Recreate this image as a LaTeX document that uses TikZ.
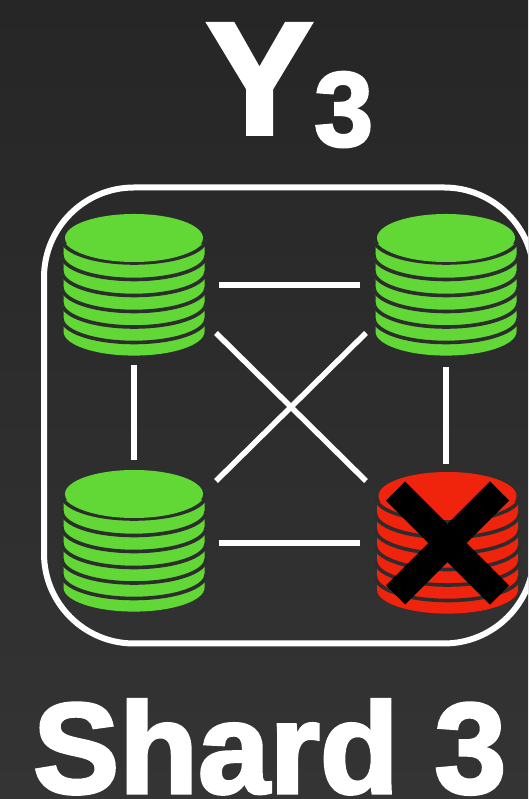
\documentclass[tikz,border=0pt]{standalone}
\usepackage{fontspec}
\newfontfamily\titlefont{Liberation Sans}[BoldFeatures={FakeBold=2.5}]
\definecolor{bgtop}{HTML}{262626}
\definecolor{bgbottom}{HTML}{343434}
\definecolor{diskgreen}{HTML}{62D836}
\definecolor{diskred}{HTML}{F0230D}
\definecolor{diskgap}{HTML}{2D2D2D}
\tikzset{
  stack/.style={minimum width=141pt, minimum height=141pt, inner sep=0pt},
  link/.style={draw=white, line width=5.5pt},
  cross/.style={draw=black, line width=27pt},
  title/.style={anchor=base west, inner sep=0pt, text=white},
}
% one stack of disks around a node centre
\newcommand{\diskstack}[3]{
  \node[stack] (#1) at (#2) {};
  \begin{scope}[shift={(#2)}]
    \fill[#3] (-70.5,41) -- (70.5,41) -- (70.5,-46.6) arc[start angle=0, end angle=-180, x radius=70.5, y radius=24] -- cycle;
    \foreach \y in {46,29.5,13.5,-2.5,-18,-33.5}
      \draw[diskgap, line width=3.6pt] (-72,\y) arc[start angle=180, end angle=360, x radius=72, y radius=24];
    \fill[#3] (0,47) ellipse[x radius=69, y radius=24];
  \end{scope}
}
\begin{document}
\begin{tikzpicture}[x=1pt, y=1pt]
\useasboundingbox (0,0) rectangle (528,799);
\shade[top color=bgtop, bottom color=bgbottom] (0,0) rectangle (528,799);
\node[title, font=\titlefont\bfseries\fontsize{160}{160}\selectfont] (sym) at (206,665) {Y};
\node[title, font=\titlefont\bfseries\fontsize{106}{106}\selectfont] (index) at (314,653) {3};
\clip (0,0) rectangle (528,799);
\node[draw=white, line width=6pt, rounded corners=90pt, minimum width=490pt, minimum height=456pt, inner sep=0pt] (group) at (289,383.5) {};
\diskstack{a}{134,514}{diskgreen}
\diskstack{b}{446,514}{diskgreen}
\diskstack{c}{134,258}{diskgreen}
\diskstack{d}{447.5,256}{diskred}
% connectors between the stacks
\draw[link] ([xshift=85pt]a.center) -- ([xshift=-86pt]b.center);
\draw[link] ([xshift=85pt,yshift=-2pt]c.center) -- ([xshift=-87.5pt]d.center);
\draw[link] ([yshift=-80pt]a.center) -- ([yshift=81pt]c.center);
\draw[link] ([yshift=-82pt]b.center) -- ([xshift=-1.5pt,yshift=79pt]d.center);
\draw[link] ([xshift=82pt,yshift=-48pt]a.center) -- ([xshift=-81.5pt,yshift=62pt]d.center);
\draw[link] ([xshift=-80pt,yshift=-48pt]b.center) -- ([xshift=82pt,yshift=60pt]c.center);
\draw[cross] ([xshift=-52pt,yshift=52pt]d.center) -- ([xshift=52pt,yshift=-52pt]d.center);
\draw[cross] ([xshift=52pt,yshift=52pt]d.center) -- ([xshift=-52pt,yshift=-52pt]d.center);
\node[title, font=\titlefont\bfseries\fontsize{129}{129}\selectfont] (label) at (33,6) {Shard 3};
\end{tikzpicture}
\end{document}
